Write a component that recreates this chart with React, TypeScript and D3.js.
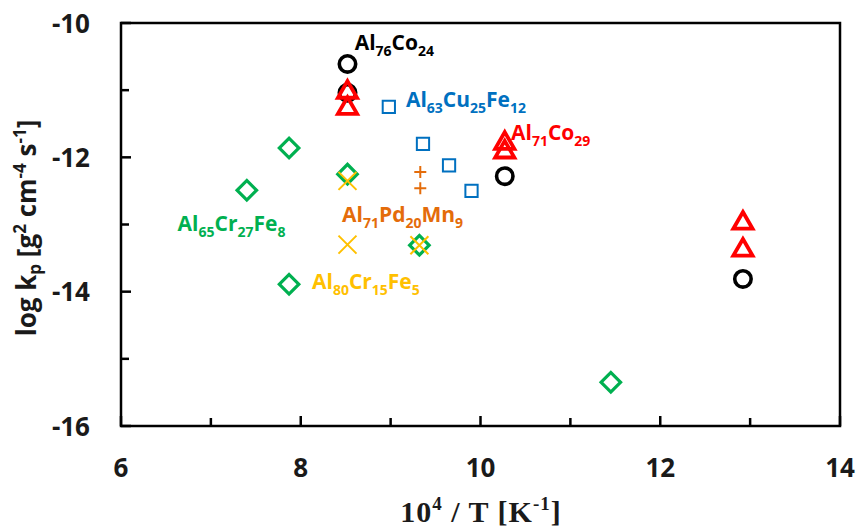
import React from "react";
import * as d3 from "d3";

const xTicks = [6, 8, 10, 12, 14];
const xMinorTicks = [7, 9, 11, 13];
const yTicks = [-10, -12, -14, -16];
const yMinorTicks = [-11, -13, -15];

const circleX = [8.52, 8.52, 10.27, 12.92];
const circleY = [-10.61, -11.04, -12.28, -13.81];
const triX = [8.52, 8.52, 10.27, 10.27, 12.92, 12.92];
const triY = [-11.03, -11.27, -11.79, -11.92, -12.98, -13.38];
const squareX = [8.98, 9.36, 9.65, 9.9];
const squareY = [-11.25, -11.8, -12.12, -12.5];
const diamondX = [7.4, 7.87, 7.87, 8.52, 9.32, 11.45];
const diamondY = [-12.49, -11.86, -13.89, -12.25, -13.31, -15.35];
const crossX = [8.52, 8.52, 9.32];
const crossY = [-12.35, -13.3, -13.31];
const plusX = [9.33, 9.33];
const plusY = [-12.22, -12.46];

const labels = [
  { parts: [["Al", 0], ["76", 1], ["Co", 0], ["24", 1]], color: "#000000", x: 8.6, y: -10.4 },
  { parts: [["Al", 0], ["63", 1], ["Cu", 0], ["25", 1], ["Fe", 0], ["12", 1]], color: "#0070c0", x: 9.17, y: -11.25 },
  { parts: [["Al", 0], ["71", 1], ["Co", 0], ["29", 1]], color: "#ff0000", x: 10.34, y: -11.74 },
  { parts: [["Al", 0], ["65", 1], ["Cr", 0], ["27", 1], ["Fe", 0], ["8", 1]], color: "#00b050", x: 6.63, y: -13.09 },
  { parts: [["Al", 0], ["71", 1], ["Pd", 0], ["20", 1], ["Mn", 0], ["9", 1]], color: "#e46c0a", x: 8.46, y: -12.97 },
  { parts: [["Al", 0], ["80", 1], ["Cr", 0], ["15", 1], ["Fe", 0], ["5", 1]], color: "#ffc000", x: 8.125, y: -13.96 },
];

const W = 858, H = 528;
const x = d3.scaleLinear().domain([6, 14]).range([121, 840]);
const y = d3.scaleLinear().domain([-16, -10]).range([426, 23]);
const FONT = "'Open Sans', 'DejaVu Sans', sans-serif";

function Label({ parts, color, px, py }) {
  let out = [];
  let prevSub = 0;
  parts.forEach(([t, sub], i) => {
    const dy = sub === prevSub ? 0 : sub ? 6 : -6;
    out.push(
      <tspan key={i} dy={dy} fontSize={sub ? 14 : 21}>{t}</tspan>
    );
    prevSub = sub;
  });
  return (
    <text x={px} y={py} fill={color} fontFamily={FONT} fontWeight={700}>{out}</text>
  );
}

export default function App() {
  const circle = d3.symbol().type(d3.symbolCircle).size(Math.PI * 8.2 * 8.2)();
  const tri = d3.symbol().type(d3.symbolTriangle).size(160)();
  const sq = d3.symbol().type(d3.symbolSquare).size(150)();
  const diamond = d3.symbol().type(d3.symbolSquare).size(190)();

  const plusPath = "M-6,0H6M0,-6V6";
  const crossPath = "M-9,-9L9,9M-9,9L9,-9";

  return (
    <svg width={W} height={H} style={{ position: "absolute", left: 0, top: 0, background: "#fff" }}>
      <rect x={0} y={0} width={W} height={H} fill="#fff" />
      <rect x={x(6)} y={y(-10)} width={x(14) - x(6)} height={y(-16) - y(-10)} fill="none" stroke="#000" strokeWidth={2.5} />
      {xTicks.map((t) => (
        <g key={"xt" + t}>
          <line x1={x(t)} x2={x(t)} y1={y(-16)} y2={y(-16) - 10} stroke="#000" strokeWidth={2.5} />
          <text x={x(t)} y={477} textAnchor="middle" fontFamily={FONT} fontWeight={700} fontSize={26} fill="#1a1a1a">{t}</text>
        </g>
      ))}
      {xMinorTicks.map((t) => (
        <line key={"xm" + t} x1={x(t)} x2={x(t)} y1={y(-16)} y2={y(-16) - 8} stroke="#000" strokeWidth={2.5} />
      ))}
      {yTicks.map((t) => (
        <g key={"yt" + t}>
          <line x1={x(6)} x2={x(6) + 10} y1={y(t)} y2={y(t)} stroke="#000" strokeWidth={2.5} />
          <text x={90} y={y(t) + 9.5} textAnchor="end" fontFamily={FONT} fontWeight={700} fontSize={26} fill="#1a1a1a">{t}</text>
        </g>
      ))}
      {yMinorTicks.map((t) => (
        <line key={"ym" + t} x1={x(6)} x2={x(6) + 8} y1={y(t)} y2={y(t)} stroke="#000" strokeWidth={2.5} />
      ))}
      <text transform="translate(36,228) rotate(-90)" textAnchor="middle" fontFamily={FONT} fontWeight={700} fontSize={26} fill="#1a1a1a">
        <tspan>log k</tspan><tspan fontSize={17} dy={5}>p</tspan><tspan dy={-5}> [g</tspan><tspan fontSize={17} dy={-10}>2</tspan><tspan dy={10}> cm</tspan><tspan fontSize={17} dy={-10}>-4</tspan><tspan dy={10}> s</tspan><tspan fontSize={17} dy={-10}>-1</tspan><tspan dy={10}>]</tspan>
      </text>
      <text x={481} y={522} textAnchor="middle" fontFamily="'Liberation Serif', 'Times New Roman', serif" fontWeight={700} fontSize={30} letterSpacing={1} fill="#1a1a1a">
        <tspan>10</tspan><tspan fontSize={19} dy={-12}>4</tspan><tspan dy={12}> / T [K</tspan><tspan fontSize={19} dy={-12}>-1</tspan><tspan dy={12}>]</tspan>
      </text>

      {circleX.map((v, i) => (
        <path key={"c" + i} d={circle} transform={`translate(${x(v)},${y(circleY[i])})`} fill="none" stroke="#000" strokeWidth={3.6} />
      ))}
      {squareX.map((v, i) => (
        <path key={"s" + i} d={sq} transform={`translate(${x(v)},${y(squareY[i])})`} fill="none" stroke="#0070c0" strokeWidth={2} />
      ))}
      {diamondX.map((v, i) => (
        <path key={"d" + i} d={diamond} transform={`translate(${x(v)},${y(diamondY[i])}) rotate(45)`} fill="none" stroke="#00b050" strokeWidth={3.2} />
      ))}
      {triX.map((v, i) => (
        <path key={"t" + i} d={tri} transform={`translate(${x(v)},${y(triY[i])})`} fill="none" stroke="#ff0000" strokeWidth={3.8} />
      ))}
      {crossX.map((v, i) => (
        <path key={"x" + i} d={crossPath} transform={`translate(${x(v)},${y(crossY[i])})`} fill="none" stroke="#ffc000" strokeWidth={2} />
      ))}
      {plusX.map((v, i) => (
        <path key={"p" + i} d={plusPath} transform={`translate(${x(v)},${y(plusY[i])})`} fill="none" stroke="#e46c0a" strokeWidth={2} />
      ))}

      {labels.map((l, i) => (
        <Label key={"l" + i} parts={l.parts} color={l.color} px={x(l.x)} py={y(l.y)} />
      ))}
    </svg>
  );
}
